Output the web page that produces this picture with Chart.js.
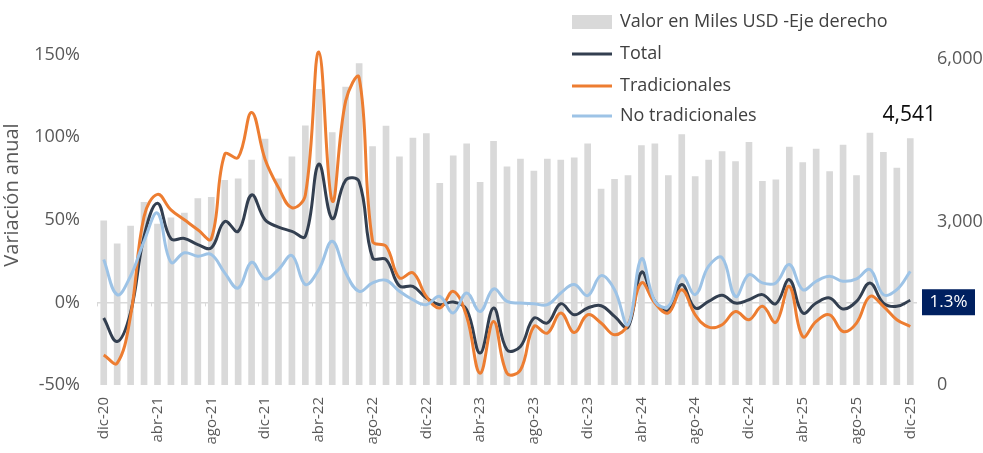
<!DOCTYPE html>
<html>
<head>
<meta charset="utf-8">
<script src="https://cdn.jsdelivr.net/npm/chart.js@4.4.1/dist/chart.umd.min.js"></script>
<style>
  html, body { margin: 0; padding: 0; background: #fff; }
  canvas { display: block; }
</style>
</head>
<body>
<canvas id="chart" width="983" height="453"></canvas>
<script>
const meses = ['ene', 'feb', 'mar', 'abr', 'may', 'jun', 'jul', 'ago', 'sep', 'oct', 'nov', 'dic'];
const labels = ['dic-20'];
for (let a = 21; a <= 25; a++) {
    meses.forEach(m => labels.push(m + '-' + a));
}

// valor exportado, miles USD (eje derecho)
const valor = [
    3024, 2599, 2926, 3365, 2963, 3080, 3167, 3432, 3457, 3772, 3796, 4142, 4531,
    3796, 4204, 4772, 5445, 4648, 5488, 5921, 4390, 4770, 4205, 4550, 4630,
    3716, 4222, 4444, 3735, 4488, 4020, 4160, 3939, 4160, 4142, 4185, 4444,
    3611, 3790, 3857, 4410, 4444, 3857, 4611, 3839, 4142, 4302, 4117, 4469,
    3753, 3778, 4383, 4099, 4346, 3932, 4420, 3857, 4642, 4284, 3994, 4541
];

// variación anual, %
const total = [
    -9.5, -23.7, -6, 40, 60, 38.5, 38.7, 35, 33, 49, 43, 65, 50,
    45.6, 43, 40, 83.7, 50.7, 74, 73, 27, 26, 10, 9.7, 2.7,
    -1.4, 0.2, -4.4, -30.7, -3.4, -28.7, -26.7, -9.5, -12.5, -0.8, -7.5, -3.4,
    -2, -8.5, -15, 18.2, 0.6, -5, 10.8, -3.4, 0.6, 4.3, -0.4, 1.6,
    4.7, -0.8, 13.8, -6.4, -0.4, 2.7, -4, 0.6, 11.8, -0.4, -2.4, 1.3
];
const tradicionales = [
    -31.8, -36.8, -8, 52, 65.4, 56, 50, 44, 38.5, 89.7, 87.7, 115, 86.7,
    69.5, 57.3, 65, 151.5, 61.4, 122, 136, 37, 34, 14.8, 17.9, 3.6,
    -3.4, 6.7, -8.5, -42.9, -11.5, -42.9, -40.9, -14.6, -18.6, -6.4, -18.2, -7.5,
    -12.5, -19.6, -13.5, 11.8, -0.4, -6.4, 7.7, -7.5, -15, -13.5, -5.5, -10.5,
    -2.4, -12.1, 9.7, -20.7, -11.5, -7.5, -17.6, -12.5, 3.6, -2.4, -10.5, -14.6
];
const noTradicionales = [
    26, 4.7, 16, 37, 54, 24.3, 30, 28, 29, 17.9, 8.7, 24.3, 14.2,
    19.9, 28.4, 10.8, 19.9, 37, 17.9, 6.7, 11.8, 13.4, 6.7, 1.6, -1.4,
    3.6, -6.4, 5.7, -5.5, 8.1, 0.6, -0.4, -0.8, -1.4, 5.7, 10.8, 4.1,
    16.2, 7.7, -13.5, 26.4, 0.6, -2.4, 16.2, 4.7, 21.9, 27, 3.6, 16.8,
    11.8, 11.8, 22.9, 7.7, 12.8, 15.8, 12.8, 14.2, 19.9, 4.7, 7.7, 18.8
];

const FONT = 'Open Sans';
const GRIS_TXT = '#595959';

const extras = {
    id: 'extras',
    beforeDatasetsDraw(chart) {
        // marcas del eje horizontal sobre 0%
        const { ctx, chartArea } = chart;
        const y0 = chart.scales.y.getPixelForValue(0);
        const slot = (chartArea.right - chartArea.left) / labels.length;
        ctx.save();
        ctx.strokeStyle = '#D9D9D9';
        ctx.lineWidth = 1;
        for (let i = 0; i <= labels.length; i += 4) {
            const x = Math.round(chartArea.left + i * slot) + 0.5;
            ctx.beginPath();
            ctx.moveTo(x, y0);
            ctx.lineTo(x, y0 + 4);
            ctx.stroke();
        }
        ctx.restore();
    },
    afterDraw(chart) {
        const { ctx, chartArea } = chart;
        ctx.save();

        // leyenda
        const lx = 572, tx = 620;
        const filas = [
            { y: 22, tipo: 'box', color: '#D9D9D9', texto: 'Valor en Miles USD -Eje derecho' },
            { y: 54, tipo: 'line', color: '#333F50', texto: 'Total' },
            { y: 86, tipo: 'line', color: '#ED7D31', texto: 'Tradicionales' },
            { y: 116, tipo: 'line', color: '#9DC3E6', texto: 'No tradicionales' }
        ];
        ctx.font = '18px "' + FONT + '"';
        ctx.textBaseline = 'middle';
        ctx.textAlign = 'left';
        filas.forEach(f => {
            if (f.tipo === 'box') {
                ctx.fillStyle = f.color;
                ctx.fillRect(lx, f.y - 7, 40, 14);
            } else {
                ctx.strokeStyle = f.color;
                ctx.lineWidth = 3;
                ctx.beginPath();
                ctx.moveTo(lx, f.y);
                ctx.lineTo(lx + 40, f.y);
                ctx.stroke();
            }
            ctx.fillStyle = '#404040';
            ctx.fillText(f.texto, tx, f.y);
        });

        // último valor de las barras
        const n = labels.length - 1;
        const xb = chart.scales.x.getPixelForValue(n);
        const yb = chart.scales.y1.getPixelForValue(valor[n]);
        ctx.font = '21px "' + FONT + '"';
        ctx.fillStyle = '#0D0D0D';
        ctx.textAlign = 'center';
        ctx.fillText(valor[n].toLocaleString('en-US'), xb - 1, yb - 23);

        // último valor del total
        const yt = chart.scales.y.getPixelForValue(total[n]);
        const bx = chartArea.right + 5, bw = 53, bh = 26;
        ctx.fillStyle = '#002060';
        ctx.fillRect(bx, yt - bh / 2 + 2, bw, bh);
        ctx.font = '17px "' + FONT + '"';
        ctx.fillStyle = '#FFFFFF';
        ctx.fillText(total[n].toFixed(1) + '%', bx + bw / 2, yt + 2);

        ctx.restore();
    }
};

const lineaBase = {
    type: 'line',
    yAxisID: 'y',
    borderWidth: 3,
    pointRadius: 0,
    tension: 0.4,
    fill: false,
    clip: false
};

const sinPadding = s => { s.paddingTop = 0; s.paddingBottom = 0; };

new Chart(document.getElementById('chart'), {
    data: {
        labels: labels,
        datasets: [
            { ...lineaBase, label: 'No tradicionales', data: noTradicionales, borderColor: '#9DC3E6', order: 1 },
            { ...lineaBase, label: 'Tradicionales', data: tradicionales, borderColor: '#ED7D31', order: 2 },
            { ...lineaBase, label: 'Total', data: total, borderColor: '#333F50', order: 3 },
            {
                type: 'bar',
                label: 'Valor en Miles USD -Eje derecho',
                data: valor,
                yAxisID: 'y1',
                backgroundColor: '#D9D9D9',
                barThickness: 6,
                order: 10
            }
        ]
    },
    options: {
        responsive: false,
        animation: false,
        layout: { padding: { top: 5, left: 0, right: 0, bottom: 0 } },
        plugins: {
            legend: { display: false },
            tooltip: { enabled: false }
        },
        scales: {
            x: {
                offset: true,
                grid: { display: false },
                border: { display: false },
                ticks: {
                    autoSkip: false,
                    maxRotation: 90,
                    minRotation: 90,
                    padding: 4,
                    color: GRIS_TXT,
                    font: { family: FONT, size: 15 },
                    callback: (v, i) => (i % 4 === 0 ? labels[i] : '')
                },
                afterFit: s => { s.height = 68; s.paddingLeft = 0; s.paddingRight = 0; }
            },
            y: {
                position: 'left',
                min: -50,
                max: 180,
                afterBuildTicks: s => { s.ticks = [-50, 0, 50, 100, 150].map(v => ({ value: v })); },
                border: { display: false },
                grid: {
                    drawTicks: false,
                    color: c => (c.tick && c.tick.value === 0 ? '#D9D9D9' : 'rgba(0,0,0,0)'),
                    lineWidth: 1.5
                },
                ticks: {
                    padding: 17,
                    color: GRIS_TXT,
                    font: { family: FONT, size: 18 },
                    callback: v => v + '%'
                },
                title: {
                    display: true,
                    text: 'Variación anual',
                    color: GRIS_TXT,
                    font: { family: FONT, size: 20 },
                    padding: { top: 0, bottom: 0 }
                },
                afterFit: s => { s.width = 97; sinPadding(s); }
            },
            y1: {
                position: 'right',
                min: 0,
                max: 7000,
                afterBuildTicks: s => { s.ticks = [0, 3000, 6000].map(v => ({ value: v })); },
                border: { display: false },
                grid: { display: false, drawTicks: false },
                ticks: {
                    padding: 20,
                    color: GRIS_TXT,
                    font: { family: FONT, size: 18 },
                    callback: v => v.toLocaleString('en-US')
                },
                afterFit: s => { s.width = 66; sinPadding(s); }
            }
        }
    },
    plugins: [extras]
});
</script>
</body>
</html>
